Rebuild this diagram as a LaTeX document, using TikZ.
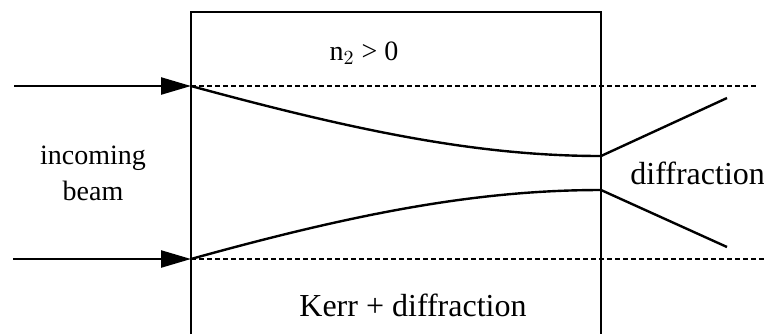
\documentclass[tikz,border=0pt]{standalone}
\usepackage{fontspec}
\setmainfont{Liberation Serif}
\usetikzlibrary{arrows.meta}
\tikzset{
  >={Triangle[length=15pt,width=8.5pt]},
  wall/.style={line width=0.9pt},
  beam/.style={line width=1.2pt},
  axis/.style={line width=1pt,dash pattern=on 2.5pt off 1.5pt},
  lbl/.style={font=\fontsize{#1}{#1}\selectfont,align=center,inner sep=0pt},
  lbl/.default=16,
}
\begin{document}
\begin{tikzpicture}[x=0.5pt,y=-0.5pt]
  \useasboundingbox (0,0) rectangle (764,334);
  % medium
  \coordinate (bl) at (191,334);
  \coordinate (tl) at (191,12);
  \coordinate (tr) at (601,12);
  \coordinate (br) at (601,334);
  \draw[wall] (bl) -- (tl) -- (tr) -- (br);
  % beam edges
  \coordinate (inT) at (191,86);
  \coordinate (inB) at (191,259);
  \coordinate (srcT) at (14,86);
  \coordinate (srcB) at (13,259);
  \coordinate (outT) at (601,156);
  \coordinate (outB) at (601,190);
  \coordinate (endT) at (727,98);
  \coordinate (endB) at (727,247);
  \coordinate (axT) at (756,86);
  \coordinate (axB) at (764,259);
  \draw[axis] (inT) -- (axT);
  \draw[axis] (inB) -- (axB);
  \draw[beam,->] (srcT) -- (inT);
  \draw[beam,->] (srcB) -- (inB);
  \draw[beam] (inT) .. controls (360,132) and (480,156) .. (outT) -- (endT);
  \draw[beam] (inB) .. controls (360,212) and (480,190) .. (outB) -- (endB);
  % labels
  \node[lbl=14] (nl) at (364,53) {n$_2$ > 0};
  \node[lbl=14] (inc) at (93,173) {incoming\\[4pt]beam};
  \node[lbl=16,anchor=west] (dif) at (630,173) {diffraction};
  \node[lbl=16] (ker) at (413,305) {Kerr + diffraction};
\end{tikzpicture}
\end{document}
